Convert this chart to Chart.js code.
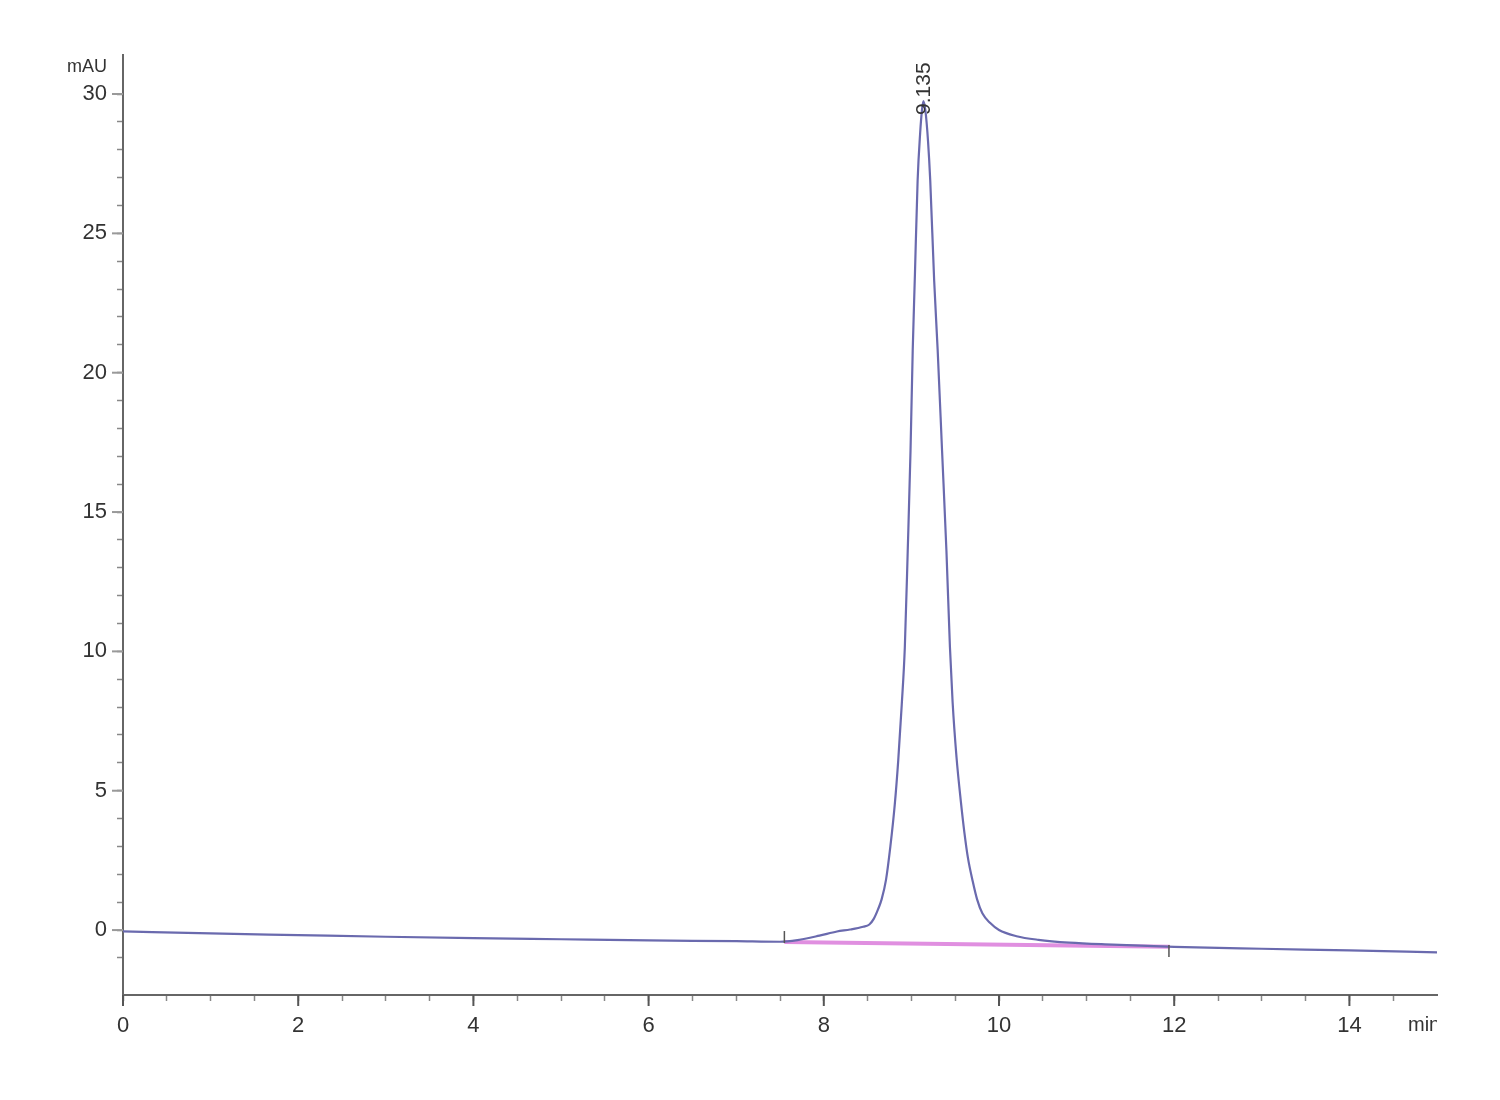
<!DOCTYPE html>
<html>
<head>
<meta charset="utf-8">
<script src="https://cdn.jsdelivr.net/npm/chart.js@4/dist/chart.umd.min.js"></script>
<style>
  html, body { margin: 0; padding: 0; background: #fff; }
  #wrap { width: 1500px; height: 1100px; }
</style>
</head>
<body>
<div id="wrap"><canvas id="hplc" width="1500" height="1100"></canvas></div>
<script>
// chromatogram trace (min, mAU)
const retentionTime = [0, 1, 2, 3, 4, 5, 6, 7, 7.5, 7.7, 7.95, 8.15, 8.3, 8.45, 8.52, 8.57, 8.62, 8.66, 8.71, 8.76,
  8.81, 8.85, 8.89, 8.925, 8.958, 8.99, 9.015, 9.04, 9.071, 9.1, 9.12, 9.137, 9.16, 9.19, 9.215, 9.26,
  9.30, 9.35, 9.40, 9.44, 9.47, 9.515, 9.565, 9.605, 9.645, 9.7, 9.75, 9.81, 9.9, 10.0, 10.2, 10.45, 10.8, 11.3,
  12, 13, 14, 15]
const absorbance = [-0.05, -0.12, -0.18, -0.24, -0.29, -0.33, -0.37, -0.4, -0.42, -0.36, -0.2, -0.05, 0.02, 0.12, 0.2, 0.4, 0.75, 1.1, 1.8, 3.0,
  4.5, 6.1, 8.1, 10.15, 13.6, 17.2, 20.8, 23.5, 26.9, 28.6, 29.4, 29.75, 29.4, 28.3, 26.9, 23.3,
  20.8, 17.2, 13.6, 10.15, 8.2, 6.2, 4.6, 3.5, 2.6, 1.75, 1.1, 0.6, 0.25, 0.0, -0.22, -0.35, -0.45, -0.52,
  -0.6, -0.67, -0.73, -0.8]

// integration baseline and its start / end marks
const baselineTime = [7.55, 11.95]
const baselineValue = [-0.43, -0.6]
const markTime = [7.55, 11.94]
const markValue = [-0.25, -0.75]

// peak annotation
const peakTime = 9.135
const peakLabel = '9.135'

// axes
const xMin = 0, xMax = 15
const yMin = -2.33, yMax = 31.4
const xLabelEvery = 2
const yLabelEvery = 5

const axisFont = { family: "'Liberation Sans', Arial, sans-serif", size: 22 }

const trace = retentionTime.map((t, i) => ({ x: t, y: absorbance[i] }))
const baseline = baselineTime.map((t, i) => ({ x: t, y: baselineValue[i] }))
const marks = markTime.map((t, i) => ({ x: t, y: markValue[i] }))

function isMajor(v, every) {
  return Math.abs(v / every - Math.round(v / every)) < 1e-6
}

// longer ticks at labelled values, peak label and axis units
const extras = {
  id: 'extras',
  afterDraw(chart) {
    const ctx = chart.ctx
    const xs = chart.scales.x
    const ys = chart.scales.y
    const area = chart.chartArea
    ctx.save()
    ctx.strokeStyle = '#555'
    ctx.lineWidth = 2
    xs.ticks.forEach(t => {
      if (!isMajor(t.value, xLabelEvery)) return
      const px = xs.getPixelForValue(t.value)
      ctx.beginPath()
      ctx.moveTo(px, area.bottom)
      ctx.lineTo(px, area.bottom + 11)
      ctx.stroke()
    })
    ctx.strokeStyle = '#999'
    ys.ticks.forEach(t => {
      if (!isMajor(t.value, yLabelEvery)) return
      const py = ys.getPixelForValue(t.value)
      ctx.beginPath()
      ctx.moveTo(area.left, py)
      ctx.lineTo(area.left - 11, py)
      ctx.stroke()
    })

    // peak retention time, rotated
    const peakY = Math.max(...absorbance)
    ctx.fillStyle = '#333'
    ctx.font = "21px 'Liberation Sans', Arial, sans-serif"
    ctx.translate(xs.getPixelForValue(peakTime) + 1, ys.getPixelForValue(peakY) + 14)
    ctx.rotate(-Math.PI / 2)
    ctx.textAlign = 'left'
    ctx.textBaseline = 'middle'
    ctx.fillText(peakLabel, 0, 0)
    ctx.restore()

    ctx.save()
    ctx.fillStyle = '#333'
    ctx.font = "18px 'Liberation Sans', Arial, sans-serif"
    ctx.textAlign = 'right'
    ctx.textBaseline = 'top'
    ctx.fillText('mAU', area.left - 16, 58)
    ctx.beginPath()
    ctx.rect(0, 0, area.right, chart.height)
    ctx.clip()
    ctx.font = "20px 'Liberation Sans', Arial, sans-serif"
    ctx.textAlign = 'left'
    ctx.fillText('min', area.right - 29, area.bottom + 20)
    ctx.restore()
  }
}

new Chart('hplc', {
  type: 'line',
  data: {
    datasets: [
      {
        label: 'baseline',
        data: baseline,
        borderColor: '#e08fe0',
        borderWidth: 4,
        pointRadius: 0,
        order: 2
      },
      {
        label: 'signal',
        data: trace,
        borderColor: '#6a6aae',
        borderWidth: 2.2,
        pointRadius: 0,
        cubicInterpolationMode: 'monotone',
        order: 1
      },
      {
        label: 'marks',
        type: 'scatter',
        data: marks,
        pointStyle: 'line',
        rotation: 90,
        pointRadius: 6,
        borderColor: '#555',
        borderWidth: 1.5,
        order: 0
      }
    ]
  },
  options: {
    responsive: false,
    animation: false,
    layout: { padding: { top: 55, right: 63, left: 0, bottom: 0 } },
    plugins: { legend: { display: false }, tooltip: { enabled: false } },
    scales: {
      x: {
        type: 'linear',
        min: xMin,
        max: xMax,
        afterBuildTicks: s => {
          s.ticks = s.ticks.filter(t => isMajor(t.value, 0.5) && t.value < xMax)
        },
        afterFit: s => { s.height = 105 },
        ticks: {
          stepSize: 0.5,
          autoSkip: false,
          maxRotation: 0,
          padding: 12,
          color: '#333',
          font: axisFont,
          callback: v => isMajor(v, xLabelEvery) ? String(v) : ''
        },
        grid: { drawOnChartArea: false, tickLength: 6, tickColor: '#888', tickWidth: 1.5 },
        border: { color: '#666', width: 2 }
      },
      y: {
        type: 'linear',
        min: yMin,
        max: yMax,
        afterBuildTicks: s => {
          s.ticks = s.ticks.filter(t => isMajor(t.value, 1))
        },
        afterFit: s => { s.width = 123 },
        ticks: {
          stepSize: 1,
          autoSkip: false,
          padding: 10,
          color: '#333',
          font: axisFont,
          callback: v => isMajor(v, yLabelEvery) ? String(v) : ''
        },
        grid: { drawOnChartArea: false, tickLength: 6, tickColor: '#888', tickWidth: 1.5 },
        border: { color: '#666', width: 2 }
      }
    }
  },
  plugins: [extras]
})
</script>
</body>
</html>
